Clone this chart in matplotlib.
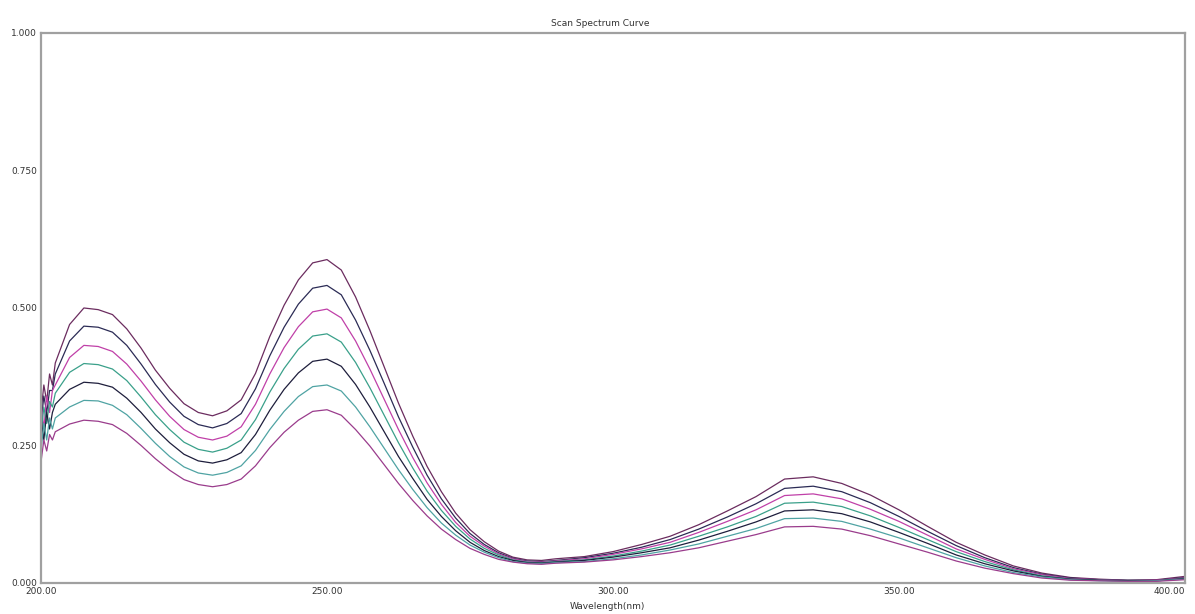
"""Scan spectrum curve: seven absorbance scans, 200-400 nm."""
import matplotlib
matplotlib.use("Agg")
import matplotlib.pyplot as plt

# wavelength grid (nm)
wavelength = [
    200.0, 200.5, 201.0, 201.5, 202.0, 202.5, 205.0, 207.5, 210.0, 212.5,
    215.0, 217.5, 220.0, 222.5, 225.0, 227.5, 230.0, 232.5, 235.0, 237.5,
    240.0, 242.5, 245.0, 247.5, 250.0, 252.5, 255.0, 257.5, 260.0, 262.5,
    265.0, 267.5, 270.0, 272.5, 275.0, 277.5, 280.0, 282.5, 285.0, 287.5,
    290.0, 295.0, 300.0, 305.0, 310.0, 315.0, 320.0, 325.0, 330.0, 335.0,
    340.0, 345.0, 350.0, 355.0, 360.0, 365.0, 370.0, 375.0, 380.0, 385.0,
    390.0, 395.0, 400.0,
]

# absorbance of each scan, top to bottom
scan_1 = [
    .31, .36, .33, .38, .36, .400, .470, .500, .497, .488,
    .462, .427, .387, .354, .326, .310, .304, .313, .333, .381,
    .448, .505, .551, .582, .588, .569, .520, .459, .393, .327,
    .267, .212, .166, .127, .097, .075, .058, .047, .042, .041,
    .044, .048, .057, .070, .085, .106, .131, .157, .189, .193,
    .181, .160, .133, .103, .074, .051, .031, .018, .010, .007,
    .005, .006, .012,
]
scan_2 = [
    .29, .34, .31, .35, .35, .380, .440, .467, .465, .456,
    .432, .398, .361, .329, .303, .288, .282, .290, .308, .353,
    .413, .465, .507, .536, .541, .524, .478, .423, .363, .302,
    .247, .196, .153, .118, .090, .070, .055, .045, .040, .039,
    .041, .046, .054, .065, .079, .098, .120, .144, .172, .176,
    .166, .146, .121, .094, .068, .046, .028, .016, .009, .006,
    .005, .005, .010,
]
scan_3 = [
    .33, .28, .34, .31, .35, .360, .410, .432, .430, .421,
    .398, .367, .333, .303, .279, .265, .260, .267, .284, .325,
    .380, .428, .466, .493, .498, .482, .440, .389, .334, .279,
    .228, .182, .143, .110, .085, .067, .053, .044, .039, .038,
    .040, .044, .052, .062, .074, .092, .112, .133, .159, .162,
    .153, .134, .112, .087, .062, .043, .026, .015, .008, .006,
    .004, .005, .009,
]
scan_4 = [
    .27, .32, .29, .33, .32, .345, .383, .399, .397, .389,
    .368, .338, .306, .279, .256, .243, .238, .245, .260, .297,
    .347, .390, .425, .449, .453, .438, .401, .355, .305, .255,
    .209, .167, .132, .103, .080, .063, .051, .042, .038, .037,
    .039, .042, .049, .058, .069, .085, .102, .121, .145, .147,
    .139, .122, .101, .079, .057, .039, .024, .013, .007, .005,
    .004, .004, .008,
]
scan_5 = [
    .30, .26, .31, .28, .31, .325, .352, .365, .363, .356,
    .336, .310, .280, .255, .234, .222, .218, .224, .237, .270,
    .314, .352, .382, .403, .407, .394, .361, .320, .275, .230,
    .190, .152, .121, .095, .074, .059, .048, .041, .037, .036,
    .038, .041, .047, .055, .064, .078, .094, .111, .131, .133,
    .126, .111, .092, .072, .051, .035, .022, .012, .007, .005,
    .004, .004, .008,
]
scan_6 = [
    .24, .29, .26, .30, .28, .300, .320, .332, .331, .323,
    .306, .281, .254, .230, .211, .200, .196, .201, .213, .241,
    .279, .312, .339, .357, .360, .349, .320, .284, .245, .206,
    .170, .137, .109, .087, .069, .056, .046, .039, .036, .035,
    .037, .039, .044, .051, .060, .071, .085, .099, .117, .118,
    .112, .098, .082, .064, .046, .031, .019, .011, .006, .004,
    .003, .004, .007,
]
scan_7 = [
    .22, .26, .24, .27, .26, .275, .289, .296, .294, .288,
    .272, .250, .226, .205, .188, .179, .175, .179, .189, .213,
    .246, .274, .296, .312, .315, .305, .279, .249, .215, .181,
    .150, .122, .098, .079, .063, .052, .043, .038, .035, .034,
    .036, .038, .042, .048, .055, .064, .076, .088, .102, .103,
    .098, .086, .071, .056, .040, .027, .017, .009, .005, .004,
    .003, .003, .006,
]

scans = [scan_1, scan_2, scan_3, scan_4, scan_5, scan_6, scan_7]
colors = ["#6b2c5f", "#2b2b55", "#c040a8", "#3aa08a",
          "#1e1e3c", "#4fa3a3", "#9a3c8c"]

x_ticks = [200, 250, 300, 350, 400]
x_tick_labels = ["200.00", "250.00", "300.00", "350.00", "400.00"]
y_ticks = [0.0, 0.25, 0.5, 0.75, 1.0]
y_tick_labels = ["0.000", "0.250", "0.500", "0.750", "1.000"]

fig = plt.figure(figsize=(11.95, 6.14), dpi=100)
ax = fig.add_axes([0.0343, 0.0505, 0.9573, 0.8958])

for values, color in zip(scans, colors):
    ax.plot(wavelength, values, color=color, linewidth=0.9)

ax.set_xlim(200, 400)
ax.set_ylim(0, 1)
ax.set_xticks(x_ticks)
ax.set_xticklabels(x_tick_labels)
ax.set_yticks(y_ticks)
ax.set_yticklabels(y_tick_labels)
ax.tick_params(length=0, labelsize=6.5, colors="#333333", pad=3)
# last label would run past the figure edge; keep it inside
ax.get_xticklabels()[-1].set_horizontalalignment("right")

for spine in ax.spines.values():
    spine.set_color("#a0a0a0")
    spine.set_linewidth(1.6)

fig.text(0.502, 0.962, "Scan Spectrum Curve", ha="center", va="center",
         fontsize=6.5, color="#333333")
fig.text(0.508, 0.012, "Wavelength(nm)", ha="center", va="center",
         fontsize=6.5, color="#333333")

fig.savefig("out.png", dpi=100)
